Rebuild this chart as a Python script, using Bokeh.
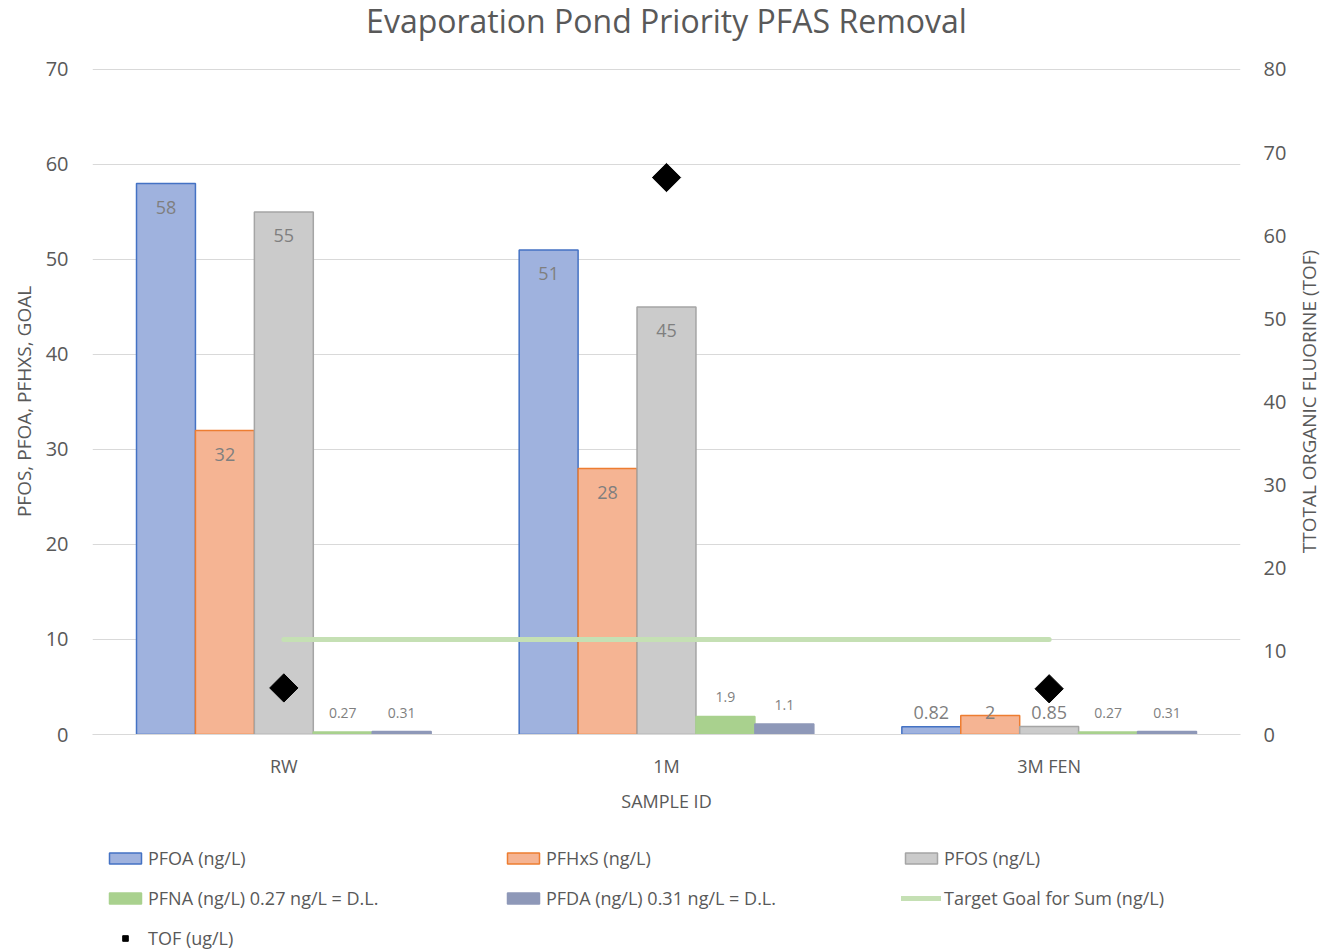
import numpy as np
from bokeh.plotting import figure
from bokeh.layouts import column, row
from bokeh.models import (FactorRange, Range1d, LinearAxis, SingleIntervalTicker,
                          ColumnDataSource, LabelSet, Label, Legend, LegendItem)
from bokeh.transform import dodge
from bokeh.core.properties import value
from bokeh.embed import file_html
from bokeh.resources import INLINE

# ---- data -------------------------------------------------------------
samples = ["RW", "1M", "3M FEN"]
pfoa = [58, 51, 0.82]
pfhxs = [32, 28, 2]
pfos = [55, 45, 0.85]
pfna = [0.27, 1.9, 0.27]
pfda = [0.31, 1.1, 0.31]
target_goal = [10, 10, 10]
tof = [5.6, 67, 5.5]

FONT = "Open Sans"
TXT = "#595959"
PAGE_W, PAGE_H = 1323, 950
SIDE_W = 26                      # strip holding the secondary-axis title
WIDTH = PAGE_W - SIDE_W
BORDER_L, BORDER_R = 92, 57

src = ColumnDataSource(dict(sample=samples, pfoa=pfoa, pfhxs=pfhxs, pfos=pfos,
                            pfna=pfna, pfda=pfda, target=target_goal, tof=tof))


def blank(width, height, **kw):
    f = figure(width=width, height=height, output_backend="svg",
               toolbar_location=None, min_border=0,
               x_axis_location=None, y_axis_location=None, **kw)
    f.grid.visible = False
    f.outline_line_color = None
    return f


# ---- title strip ------------------------------------------------------
head = blank(WIDTH, 48, x_range=Range1d(0, 1), y_range=Range1d(0, 48),
             min_border_left=BORDER_L, min_border_right=BORDER_R)
head.add_layout(Label(x=0.5, y=28, text="Evaporation Pond Priority PFAS Removal",
                      text_align="center", text_baseline="middle", text_font=FONT,
                      text_font_size="32px", text_color=TXT))

# ---- main chart -------------------------------------------------------
# a hair of headroom so the top gridline is not clipped by the frame edge
TOP_L, TOP_R = 70.1, 80.0 * 70.1 / 70.0

p = figure(x_range=FactorRange(*samples, range_padding=0), y_range=Range1d(0, TOP_L),
           width=WIDTH, height=782, output_backend="svg", toolbar_location=None,
           min_border_left=BORDER_L, min_border_right=BORDER_R, min_border_top=20,
           min_border_bottom=96, background_fill_color="white",
           border_fill_color="white")
p.outline_line_color = None
p.xgrid.grid_line_color = None
p.ygrid.grid_line_color = "#d9d9d9"
p.ygrid.grid_line_width = 1

W = 0.154
series = [
    ("pfoa", "PFOA (ng/L)", "#9fb2de", "#4472C4", -2 * W, True),
    ("pfhxs", "PFHxS (ng/L)", "#f5b493", "#ED7D31", -W, True),
    ("pfos", "PFOS (ng/L)", "#cbcbcb", "#A5A5A5", 0.0, True),
    ("pfna", "PFNA (ng/L) 0.27 ng/L = D.L.", "#a9d18e", "#a9d18e", W, False),
    ("pfda", "PFDA (ng/L) 0.31 ng/L = D.L.", "#8e98b8", "#8e98b8", 2 * W, False),
]

for key, name, fill, line, off, inside in series:
    p.vbar(x=dodge("sample", off, range=p.x_range), top=key, width=W,
           source=src, fill_color=fill, line_color=line, line_width=1.5)
    vals = np.array(src.data[key], dtype=float)
    if inside:
        ly = np.maximum(vals - 2.5, 2.3)
        size = "18px"
    else:
        ly = vals + 2.0
        size = "14px"
    lsrc = ColumnDataSource(dict(sample=samples, y=ly,
                                 txt=[f"{v:g}" for v in vals]))
    p.add_layout(LabelSet(x=dodge("sample", off, range=p.x_range), y="y",
                          text="txt", source=lsrc, text_align="center",
                          text_baseline="middle", text_font=value(FONT),
                          text_font_size=size, text_color="#7f7f7f"))

GOAL_STYLE = dict(line_color="#c5e0b4", line_width=5, line_cap="round")
TOF_STYLE = dict(marker="square", angle=np.pi / 4, fill_color="black",
                 line_color="black")

p.extra_y_ranges = {"tof": Range1d(0, TOP_R)}
p.line(x="sample", y="target", source=src, **GOAL_STYLE)
p.scatter(x="sample", y="tof", source=src, y_range_name="tof", size=20, **TOF_STYLE)

yl = p.yaxis[0]
yl.ticker = SingleIntervalTicker(interval=10, num_minor_ticks=0)
yr = LinearAxis(y_range_name="tof",
                ticker=SingleIntervalTicker(interval=10, num_minor_ticks=0))
p.add_layout(yr, "right")

for ax in (yl, yr):
    ax.axis_line_color = None
    ax.major_tick_line_color = None
    ax.minor_tick_line_color = None
    ax.major_label_text_font = FONT
    ax.major_label_text_font_size = "20px"
    ax.major_label_text_color = TXT
yl.major_label_standoff = 18
yr.major_tick_out = 0
yr.major_tick_in = 0
yr.major_label_standoff = 23

yl.axis_label = "PFOS, PFOA, PFHXS, GOAL"
yl.axis_label_text_font = FONT
yl.axis_label_text_font_size = "19px"
yl.axis_label_text_font_style = "normal"
yl.axis_label_text_color = TXT
yl.axis_label_standoff = 6

xa = p.xaxis[0]
xa.axis_line_color = "#d9d9d9"
xa.major_tick_line_color = None
xa.minor_tick_line_color = None
xa.major_label_text_font = FONT
xa.major_label_text_font_size = "18px"
xa.major_label_text_color = TXT
xa.major_label_standoff = 13
xa.axis_label = "SAMPLE ID"
xa.axis_label_text_font = FONT
xa.axis_label_text_font_size = "18px"
xa.axis_label_text_font_style = "normal"
xa.axis_label_text_color = TXT
xa.axis_label_standoff = 8

# ---- legend strip -----------------------------------------------------
foot = blank(WIDTH, 120, x_range=Range1d(0, 1), y_range=Range1d(0, 1),
             min_border_left=BORDER_L, min_border_right=BORDER_R)

# swatch-only renderers: a single NaN row, so nothing is plotted but the
# legend still has a glyph to draw
NA = [np.nan]
items = []
for key, name, fill, line, off, inside in series:
    r = foot.vbar(x=NA, top=NA, width=0.1, fill_color=fill, line_color=line,
                  line_width=1.5)
    items.append(LegendItem(label=name, renderers=[r]))
g = foot.line(x=NA, y=NA, **GOAL_STYLE)
items.insert(5, LegendItem(label="Target Goal for Sum (ng/L)", renderers=[g]))
t = foot.scatter(x=NA, y=NA, size=10, **TOF_STYLE)
items.append(LegendItem(label="TOF (ug/L)", renderers=[t]))

leg = Legend(items=items, location=(13, 0), orientation="horizontal", ncols=3,
             glyph_width=40, glyph_height=14, label_standoff=3, spacing=16,
             label_width=339, padding=0, margin=0, border_line_color=None,
             background_fill_alpha=0, label_text_font=FONT,
             label_text_font_size="18px", label_text_color=TXT)
foot.add_layout(leg, "center")

# ---- secondary-axis title, reading bottom to top ------------------------
side = blank(SIDE_W, PAGE_H, x_range=Range1d(0, 1), y_range=Range1d(0, PAGE_H))
side.add_layout(Label(x=0.45, y=PAGE_H - 401, text="TTOTAL ORGANIC FLUORINE (TOF)",
                      angle=np.pi / 2, text_align="center", text_baseline="middle",
                      text_font=FONT, text_font_size="19px", text_color=TXT))

page = row(column(head, p, foot, spacing=0), side, spacing=0)
open("out.html", "w").write(file_html(page, INLINE))
